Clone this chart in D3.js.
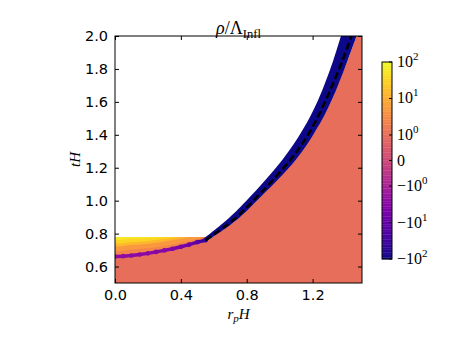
<!DOCTYPE html>
<html>
<head>
<meta charset="utf-8">
<script src="https://cdn.jsdelivr.net/npm/d3@7"></script>
<style>
  body { margin: 0; background: #fff; }
  svg { display: block; }
</style>
</head>
<body>
<div id="chart"></div>
<script>
// axis ticks
const xTicks = [0.0, 0.4, 0.8, 1.2];
const yTicks = [0.6, 0.8, 1.0, 1.2, 1.4, 1.6, 1.8, 2.0];
const cbarTicks = [-100, -10, -1, 0, 1, 10, 100];
const cbarExp = ["2", "1", "0", "", "0", "1", "2"];

// bulk region (value ~1) and top of data on the left
const bulkValue = 1;
const tDataTop = 0.78;

// light cone: dashed line and the blue band around it (value -100)
const tCone = [0.76, 0.88, 1.0, 1.25, 1.43, 1.61, 1.85, 2.0];
const rDash = [0.55, 0.715, 0.84, 1.067, 1.19, 1.28, 1.381, 1.436];
const rBandLeft = [0.525, 0.675, 0.798, 1.018, 1.14, 1.233, 1.325, 1.372];
const rBandRight = [0.565, 0.735, 0.862, 1.1, 1.222, 1.316, 1.412, 1.467];
const bandValue = -100;

// purple ridge below the bubble
const rRidge = [0, 0.05, 0.1, 0.15, 0.2, 0.25, 0.3, 0.35, 0.4, 0.45, 0.5, 0.55];
const tRidge = [0.661, 0.663, 0.667, 0.673, 0.68, 0.689, 0.698, 0.708, 0.72, 0.733, 0.748, 0.76];
const vRidge = [-2.6, -2.6, -2.8, -3, -3, -3.2, -3.4, -4, -5, -8, -15, -40];

// nested contour levels inside the bubble (lower edges, top is tDataTop)
const levelValues = [2.5, 5, 15, 35, 60];
const levelR = [
  rRidge,
  [0, 0.1, 0.2, 0.3, 0.4, 0.5, 0.53],
  [0, 0.1, 0.2, 0.3, 0.4, 0.45],
  [0, 0.1, 0.2, 0.3, 0.38],
  [0, 0.1, 0.2, 0.28]
];
const levelT = [
  tRidge,
  [0.700, 0.703, 0.711, 0.725, 0.744, 0.768, 0.78],
  [0.728, 0.731, 0.739, 0.752, 0.77, 0.78],
  [0.744, 0.747, 0.755, 0.768, 0.78],
  [0.765, 0.768, 0.774, 0.78]
];

const width = 457;
const height = 343;
const plot = { left: 115, right: 362, top: 36, bottom: 283 };
const cbar = { left: 382, right: 392, top: 62, bottom: 259 };

const svg = d3.select("#chart").append("svg")
  .attr("width", width)
  .attr("height", height);

const x = d3.scaleLinear().domain([0, 1.5]).range([plot.left, plot.right]);
const y = d3.scaleLinear().domain([0.5, 2.0]).range([plot.bottom, plot.top]);

// symlog colour norm, linthresh 1
const symT = (v) => Math.abs(v) <= 1 ? v * 0.7 : Math.sign(v) * (0.7 + Math.log10(Math.abs(v)));
const norm = d3.scaleLinear().domain([symT(-100), symT(100)]).range([0, 1]).clamp(true);
const color = (v) => d3.interpolatePlasma(norm(symT(v)));

svg.append("defs").append("clipPath").attr("id", "clip")
  .append("rect")
  .attr("x", plot.left).attr("y", plot.top)
  .attr("width", plot.right - plot.left).attr("height", plot.bottom - plot.top);

const g = svg.append("g").attr("clip-path", "url(#clip)");
const line = d3.line().x((d) => x(d[0])).y((d) => y(d[1]));
const smooth = d3.line().x((d) => x(d[0])).y((d) => y(d[1])).curve(d3.curveCatmullRom);

// Bulk region
const rightEdge = tCone.map((t, i) => [rBandRight[i], t]);
const bulk = [[0, 0.5], [0, tDataTop], [0.53, tDataTop]]
  .concat(rightEdge)
  .concat([[1.6, 2.0], [1.6, 0.5]]);
g.append("path").attr("d", line(bulk)).attr("fill", color(bulkValue));

// Contour levels inside the bubble
levelValues.forEach((v, k) => {
  const edge = levelR[k].map((r, i) => [r, levelT[k][i]]);
  const last = edge[edge.length - 1];
  const pts = [[0, tDataTop]].concat(edge).concat([[last[0], tDataTop]]);
  g.append("path")
    .attr("d", smooth(pts))
    .attr("fill", color(v));
});

// Blue band
const band = d3.area()
  .y((d, i) => y(tCone[i]))
  .x0((d, i) => x(rBandLeft[i]))
  .x1((d, i) => x(rBandRight[i]))
  .curve(d3.curveCatmullRom);
g.append("path")
  .attr("d", band(tCone))
  .attr("fill", color(bandValue));

// Purple ridge
const ridge = rRidge.map((r, i) => [r, tRidge[i], vRidge[i]]);
g.selectAll(".seg")
  .data(d3.pairs(ridge))
  .join("line")
  .attr("x1", (d) => x(d[0][0])).attr("y1", (d) => y(d[0][1]))
  .attr("x2", (d) => x(d[1][0])).attr("y2", (d) => y(d[1][1]))
  .attr("stroke", (d) => color((d[0][2] + d[1][2]) / 2))
  .attr("stroke-width", 3.5)
  .attr("stroke-linecap", "round");
g.selectAll(".dot")
  .data(ridge)
  .join("circle")
  .attr("cx", (d) => x(d[0])).attr("cy", (d) => y(d[1]))
  .attr("r", 2.3)
  .attr("fill", (d) => color(d[2]));

// Dashed light cone
g.append("path")
  .attr("d", smooth(tCone.map((t, i) => [rDash[i], t])))
  .attr("fill", "none")
  .attr("stroke", "#000")
  .attr("stroke-width", 2.5)
  .attr("stroke-dasharray", "7,3.5");

// Axes (ticks inward)
const tickFont = "'DejaVu Sans', sans-serif";
const axisB = svg.append("g").attr("transform", `translate(0,${plot.bottom})`)
  .call(d3.axisBottom(x).tickValues(xTicks).tickFormat(d3.format(".1f")).tickSizeInner(-4).tickSizeOuter(0).tickPadding(7));
const axisT = svg.append("g").attr("transform", `translate(0,${plot.top})`)
  .call(d3.axisTop(x).tickValues(xTicks).tickFormat("").tickSizeInner(-4).tickSizeOuter(0));
const axisL = svg.append("g").attr("transform", `translate(${plot.left},0)`)
  .call(d3.axisLeft(y).tickValues(yTicks).tickFormat(d3.format(".1f")).tickSizeInner(-4).tickSizeOuter(0).tickPadding(7));
const axisR = svg.append("g").attr("transform", `translate(${plot.right},0)`)
  .call(d3.axisRight(y).tickValues(yTicks).tickFormat("").tickSizeInner(-4).tickSizeOuter(0));
[axisB, axisT, axisL, axisR].forEach((a) => {
  a.select(".domain").remove();
  a.selectAll("line").attr("stroke", "#000");
  a.selectAll("text").attr("fill", "#000").style("font-family", tickFont).style("font-size", "14.5px");
});

svg.append("rect")
  .attr("x", plot.left).attr("y", plot.top)
  .attr("width", plot.right - plot.left).attr("height", plot.bottom - plot.top)
  .attr("fill", "none").attr("stroke", "#000").attr("stroke-width", 1);

// Labels
const serif = "'Liberation Serif', 'DejaVu Serif', serif";
const title = svg.append("text")
  .attr("x", (plot.left + plot.right) / 2).attr("y", 34)
  .attr("text-anchor", "middle")
  .style("font-family", serif).style("font-size", "18px");
title.append("tspan").attr("font-style", "italic").text("ρ");
title.append("tspan").text("/Λ");
title.append("tspan").attr("font-size", "12.5px").attr("dy", 4).text("Infl");

const xlab = svg.append("text")
  .attr("x", (plot.left + plot.right) / 2).attr("y", 319)
  .attr("text-anchor", "middle")
  .style("font-family", serif).style("font-size", "15px").style("font-style", "italic");
xlab.append("tspan").text("r");
xlab.append("tspan").attr("font-size", "11px").attr("dy", 3).text("p");
xlab.append("tspan").attr("dy", -3).text("H");

svg.append("text")
  .attr("transform", `translate(80,${(plot.top + plot.bottom) / 2}) rotate(-90)`)
  .attr("text-anchor", "middle")
  .style("font-family", serif).style("font-size", "15px").style("font-style", "italic")
  .text("tH");

// Colorbar
const cy = d3.scaleLinear().domain([0, 1]).range([cbar.bottom, cbar.top]);
const steps = d3.range(0, 1, 1 / 120);
svg.append("g").selectAll("rect")
  .data(steps)
  .join("rect")
  .attr("x", cbar.left)
  .attr("y", (d) => cy(d + 1 / 120))
  .attr("width", cbar.right - cbar.left)
  .attr("height", cy(0) - cy(1 / 120) + 0.3)
  .attr("fill", (d) => d3.interpolatePlasma(d + 0.5 / 120));
svg.append("rect")
  .attr("x", cbar.left).attr("y", cbar.top)
  .attr("width", cbar.right - cbar.left).attr("height", cbar.bottom - cbar.top)
  .attr("fill", "none").attr("stroke", "#000").attr("stroke-width", 1);

const cbarG = svg.append("g");
cbarTicks.forEach((v, i) => {
  const yy = cy(norm(symT(v)));
  cbarG.append("line")
    .attr("x1", cbar.right - 3).attr("x2", cbar.right)
    .attr("y1", yy).attr("y2", yy)
    .attr("stroke", "#000");
  const t = cbarG.append("text")
    .attr("x", cbar.right + 5).attr("y", yy + 5)
    .style("font-family", serif).style("font-size", "16px");
  if (v === 0) {
    t.text("0");
  } else {
    t.append("tspan").text((v < 0 ? "−" : "") + "10");
    t.append("tspan").attr("font-size", "11px").attr("dy", -7).text(cbarExp[i]);
  }
});
</script>
</body>
</html>
